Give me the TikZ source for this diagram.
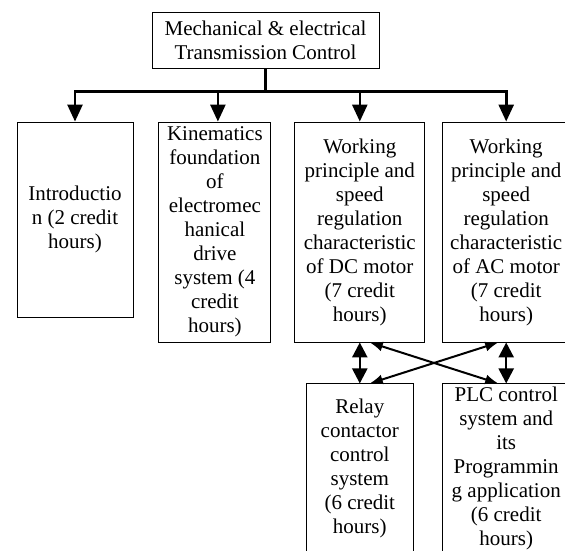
\documentclass[tikz,border=0pt]{standalone}
\usepackage{fontspec}
\setmainfont{Liberation Serif}
\usetikzlibrary{arrows.meta, positioning}

\begin{document}
\begin{tikzpicture}[
    x=1pt, y=-1pt,
    topic/.style={draw, line width=0.9pt, align=center, inner sep=0pt, font=\fontsize{21}{24}\selectfont},
    feed/.style={-{Triangle[length=17pt, width=15pt]}, line width=2.6pt},
    link/.style={{Triangle[length=15pt, width=15pt]}-{Triangle[length=15pt, width=15pt]}, line width=2.4pt},
    cross/.style={{Latex[length=13pt, width=10pt]}-{Latex[length=13pt, width=10pt]}, line width=2pt}
]
    \useasboundingbox (0,0) rectangle (565,551);

    \node[topic, minimum width=227pt, minimum height=56pt] (course) at (265.5,40) {Mechanical \& electrical\\Transmission Control};
    \node[topic, minimum width=116pt, minimum height=195pt] (intro) at (75,219.5) {Introductio\\n (2 credit\\hours)};
    \node[topic, minimum width=112pt, minimum height=220pt, right=25pt of intro.north east, anchor=north west] (kinematics) {Kinematics\\foundation\\of\\electromec\\hanical\\drive\\system (4\\credit\\hours)};
    \node[topic, minimum width=130pt, minimum height=220pt, right=23pt of kinematics.north east, anchor=north west] (dcmotor) {Working\\principle and\\speed\\regulation\\characteristic\\of DC motor\\(7 credit\\hours)};
    \node[topic, minimum width=127pt, minimum height=220pt, right=17pt of dcmotor.north east, anchor=north west] (acmotor) {Working\\principle and\\speed\\regulation\\characteristic\\of AC motor\\(7 credit\\hours)};
    \node[topic, minimum width=107pt, minimum height=170pt, below=41pt of dcmotor] (relay) {Relay\\contactor\\control\\system\\(6 credit\\hours)};
    \node[topic, minimum width=127pt, minimum height=170pt, below=41pt of acmotor] (plc) {PLC control\\system and\\its\\Programmin\\g application\\(6 credit\\hours)};

    \draw[line width=2.6pt] (course.south) -- ++(0,23) coordinate (bus);
    \draw[feed] (bus) -| (intro.north);
    \draw[feed] (bus) -| ([xshift=3pt]kinematics.north);
    \draw[feed] (bus) -| (dcmotor.north);
    \draw[feed] (bus) -| (acmotor.north);

    \draw[cross] ([xshift=10pt]dcmotor.south) -- ([xshift=-8pt]plc.north);
    \draw[cross] ([xshift=-8pt]acmotor.south) -- ([xshift=10pt]relay.north);
    \draw[link] (dcmotor.south) -- (relay.north);
    \draw[link] (acmotor.south) -- (plc.north);
\end{tikzpicture}
\end{document}
